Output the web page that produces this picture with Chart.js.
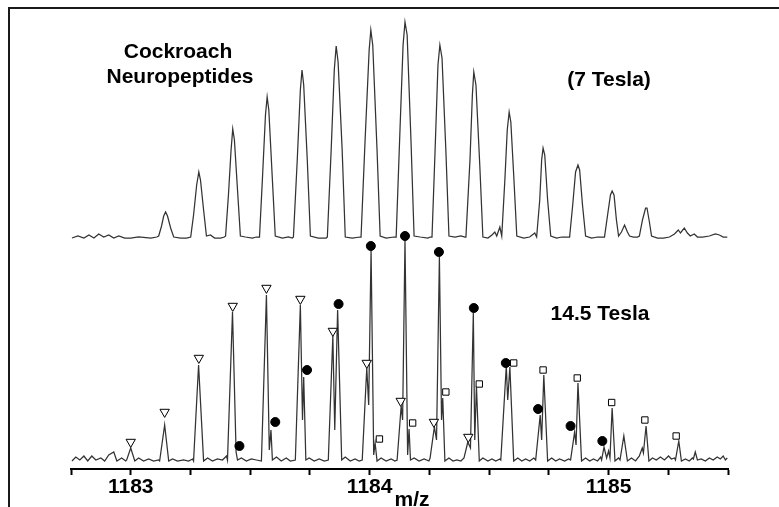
<!DOCTYPE html>
<html>
<head>
<meta charset="utf-8">
<script src="https://cdn.jsdelivr.net/npm/chart.js@4/dist/chart.umd.min.js"></script>
<style>
  html, body { margin: 0; padding: 0; background: #fff; }
  #wrap { width: 779px; height: 507px; }
</style>
</head>
<body>
<div id="wrap"><canvas id="spectrum" width="779" height="507"></canvas></div>
<script>
// Cockroach neuropeptides, 7 T vs 14.5 T (FT-ICR)

const FONT = '"Liberation Sans", Arial, Helvetica, sans-serif';

// 1) 7 Tesla spectrum: [m/z, intensity (a.u.)]
const spec7T = [
  [1182.754, 0], [1182.779, 2], [1182.804, 0], [1182.825, 3], [1182.846, 0], [1182.866, 4], [1182.887, 1],
  [1182.908, 3], [1182.929, 0], [1182.950, 2], [1182.975, 0], [1183.000, 0], [1183.033, 1], [1183.084, 0], [1183.109, 1],
  [1183.117, 2], [1183.129, 12], [1183.138, 22], [1183.146, 26], [1183.154, 22], [1183.167, 10], [1183.180, 1], [1183.209, 0], [1183.234, 0],
  [1183.251, 1], [1183.263, 23], [1183.276, 53], [1183.285, 66], [1183.292, 58], [1183.305, 28], [1183.317, 2], [1183.334, 3], [1183.351, 0], [1183.376, 0], [1183.392, 1],
  [1183.397, 2], [1183.409, 43], [1183.420, 88], [1183.427, 109], [1183.434, 98], [1183.447, 48], [1183.459, 2], [1183.480, 1], [1183.509, 0], [1183.526, 1],
  [1183.539, 1], [1183.551, 58], [1183.564, 123], [1183.571, 141], [1183.578, 128], [1183.593, 58], [1183.605, 2], [1183.635, 0], [1183.660, 1], [1183.676, 0],
  [1183.681, 1], [1183.697, 78], [1183.710, 148], [1183.717, 168], [1183.724, 153], [1183.739, 78], [1183.752, 2], [1183.785, 0], [1183.818, 0],
  [1183.823, 1], [1183.839, 88], [1183.852, 168], [1183.860, 192], [1183.868, 176], [1183.885, 88], [1183.898, 1], [1183.927, 0], [1183.960, 1],
  [1183.964, 1], [1183.981, 98], [1183.998, 188], [1184.005, 208], [1184.013, 193], [1184.031, 88], [1184.044, 2], [1184.069, 0], [1184.102, 1],
  [1184.111, 1], [1184.127, 108], [1184.140, 193], [1184.148, 216], [1184.157, 203], [1184.173, 98], [1184.186, 2], [1184.211, 1], [1184.244, 0], [1184.253, 1],
  [1184.261, 1], [1184.274, 88], [1184.286, 173], [1184.294, 193], [1184.303, 180], [1184.319, 88], [1184.332, 2], [1184.357, 1], [1184.382, 2], [1184.399, 1],
  [1184.403, 1], [1184.420, 78], [1184.430, 143], [1184.436, 166], [1184.445, 153], [1184.461, 73], [1184.474, 1], [1184.495, 0], [1184.512, 3], [1184.524, 6], [1184.532, 2], [1184.545, 11], [1184.553, 2],
  [1184.566, 58], [1184.576, 108], [1184.584, 126], [1184.591, 116], [1184.603, 63], [1184.616, 2], [1184.645, 0], [1184.670, 1], [1184.691, 5], [1184.699, 1],
  [1184.712, 38], [1184.720, 78], [1184.726, 90], [1184.733, 83], [1184.745, 38], [1184.758, 2], [1184.783, 0], [1184.804, 1], [1184.820, 1],
  [1184.837, 1], [1184.850, 33], [1184.862, 66], [1184.872, 73], [1184.879, 68], [1184.891, 33], [1184.904, 2], [1184.929, 0], [1184.954, 1], [1184.971, 1],
  [1184.983, 1], [1184.996, 23], [1185.008, 43], [1185.015, 47], [1185.023, 43], [1185.033, 18], [1185.042, 2], [1185.054, 6], [1185.067, 13], [1185.079, 6], [1185.088, 2], [1185.104, 1], [1185.121, 1],
  [1185.129, 2], [1185.142, 18], [1185.155, 30], [1185.161, 30], [1185.171, 16], [1185.180, 2], [1185.205, 0], [1185.230, 0], [1185.255, 1], [1185.276, 4],
  [1185.292, 8], [1185.301, 5], [1185.317, 10], [1185.330, 5], [1185.342, 2], [1185.359, 4], [1185.372, 1], [1185.393, 1], [1185.422, 2], [1185.447, 4],
  [1185.464, 3], [1185.480, 1], [1185.497, 1]
];

// 2) 14.5 Tesla spectrum: [m/z, intensity (a.u.)]
const spec14T = [
  [1182.754, 0], [1182.770, 4], [1182.787, 1], [1182.804, 5], [1182.820, 0], [1182.837, 5], [1182.854, 1], [1182.875, 3],
  [1182.891, 0], [1182.908, 6], [1182.929, 9], [1182.942, 0], [1182.962, 3], [1182.979, 0],
  [1182.983, 1], [1183.000, 13], [1183.017, 0], [1183.033, 3], [1183.054, 0], [1183.075, 2], [1183.096, 0], [1183.117, 1],
  [1183.121, 0], [1183.142, 36], [1183.159, 0], [1183.175, 2], [1183.196, 0], [1183.221, 1], [1183.242, 0], [1183.259, 2],
  [1183.263, 0], [1183.284, 96], [1183.305, 0], [1183.322, 3], [1183.342, 0], [1183.363, 2], [1183.384, 1], [1183.401, 5],
  [1183.405, 1], [1183.426, 149], [1183.441, 9], [1183.447, 1], [1183.463, 3], [1183.484, 0], [1183.505, 2], [1183.526, 1],
  [1183.547, 0], [1183.568, 166], [1183.580, 11], [1183.587, 31], [1183.593, 1], [1183.610, 4], [1183.630, 0], [1183.651, 3], [1183.668, 0],
  [1183.689, 1], [1183.710, 156], [1183.719, 41], [1183.724, 84], [1183.733, 1], [1183.747, 3], [1183.768, 0], [1183.789, 2], [1183.810, 0],
  [1183.827, 1], [1183.846, 125], [1183.854, 31], [1183.866, 151], [1183.883, 1], [1183.898, 4], [1183.919, 0], [1183.939, 2], [1183.956, 0],
  [1183.969, 1], [1183.988, 93], [1183.996, 56], [1184.006, 211], [1184.017, 6], [1184.023, 18], [1184.031, 0], [1184.048, 3], [1184.069, 0], [1184.090, 2], [1184.106, 0],
  [1184.115, 1], [1184.132, 55], [1184.138, 41], [1184.148, 221], [1184.159, 6], [1184.165, 32], [1184.171, 1], [1184.186, 3], [1184.207, 0], [1184.228, 2], [1184.248, 0],
  [1184.253, 3], [1184.271, 34], [1184.280, 21], [1184.292, 204], [1184.301, 41], [1184.306, 63], [1184.315, 0], [1184.332, 3], [1184.349, 0], [1184.365, 1], [1184.382, 0],
  [1184.395, 3], [1184.411, 19], [1184.422, 13], [1184.434, 148], [1184.440, 21], [1184.447, 75], [1184.459, 0], [1184.474, 3], [1184.495, 0], [1184.512, 2], [1184.528, 0], [1184.545, 2],
  [1184.549, 1], [1184.572, 95], [1184.578, 61], [1184.587, 94], [1184.603, 0], [1184.620, 3], [1184.637, 0], [1184.653, 2], [1184.670, 0], [1184.687, 3],
  [1184.695, 1], [1184.714, 46], [1184.720, 21], [1184.729, 86], [1184.745, 0], [1184.762, 3], [1184.779, 0], [1184.795, 2], [1184.816, 0], [1184.833, 2],
  [1184.841, 1], [1184.858, 29], [1184.864, 16], [1184.872, 78], [1184.887, 0], [1184.904, 3], [1184.921, 0], [1184.937, 2], [1184.954, 0], [1184.967, 4],
  [1184.971, 1], [1184.981, 14], [1184.992, 3], [1185.000, 10], [1185.006, 3], [1185.015, 53], [1185.027, 0], [1185.042, 3],
  [1185.048, 1], [1185.064, 25], [1185.079, 0], [1185.096, 3], [1185.113, 0], [1185.129, 5],
  [1185.141, 13], [1185.146, 8], [1185.157, 35], [1185.169, 0], [1185.184, 3], [1185.200, 1], [1185.217, 4], [1185.234, 1], [1185.251, 5], [1185.263, 2], [1185.276, 3],
  [1185.280, 1], [1185.294, 20], [1185.305, 0], [1185.322, 2], [1185.338, 0], [1185.351, 3],
  [1185.355, 2], [1185.363, 9], [1185.372, 1], [1185.388, 2], [1185.405, 0], [1185.422, 3], [1185.438, 1], [1185.455, 4], [1185.468, 2], [1185.480, 5], [1185.489, 1], [1185.497, 3]
];

// 3) Marcadores de las tres distribuciones isotópicas (14.5 T)
const triMz  = [1183.000, 1183.142, 1183.285, 1183.427, 1183.568, 1183.710, 1183.846, 1183.988, 1184.130, 1184.269, 1184.413];
const triInt = [19, 49, 103, 155, 173, 162, 130, 98, 60, 39, 24];

const dotMz  = [1183.455, 1183.605, 1183.738, 1183.870, 1184.005, 1184.148, 1184.290, 1184.436, 1184.570, 1184.705, 1184.841, 1184.974];
const dotInt = [15, 39, 91, 157, 215, 225, 209, 153, 98, 52, 35, 20];

const sqMz  = [1184.041, 1184.180, 1184.319, 1184.459, 1184.603, 1184.726, 1184.869, 1185.013, 1185.152, 1185.283];
const sqInt = [22, 38, 69, 77, 98, 91, 83, 58.5, 41, 25];

// baselines used to stack both spectra in one panel
const base7T = 231;
const base14T = 8;

const toPoints = (pairs, base) => pairs.map(p => ({ x: p[0], y: base + p[1] }));
const toMarkers = (mz, val, base) => mz.map((m, i) => ({ x: m, y: base + val[i] }));

// labels drawn on the canvas
const notes = [
  { text: 'Cockroach', x: 178, y: 58 },
  { text: 'Neuropeptides', x: 180, y: 83 },
  { text: '(7 Tesla)', x: 609, y: 86 },
  { text: '14.5 Tesla', x: 600, y: 320 },
  { text: 'm/z', x: 412, y: 506 }
];

const framePlugin = {
  id: 'framePlugin',
  beforeDraw(chart) {
    const ctx = chart.ctx;
    ctx.save();
    ctx.fillStyle = '#fff';
    ctx.fillRect(0, 0, chart.width, chart.height);
    ctx.fillStyle = '#1a1a1a';
    ctx.fillRect(8, 7, 2, chart.height - 7);
    ctx.fillRect(8, 7, chart.width - 8, 2);
    ctx.restore();
  },
  afterDraw(chart) {
    const ctx = chart.ctx;
    ctx.save();
    ctx.font = 'bold 21px ' + FONT;
    ctx.fillStyle = '#000';
    ctx.textAlign = 'center';
    ctx.textBaseline = 'alphabetic';
    notes.forEach(n => ctx.fillText(n.text, n.x, n.y));
    ctx.restore();
  }
};

const lineStyle = {
  borderColor: '#333',
  borderWidth: 1.25,
  pointRadius: 0,
  tension: 0,
  fill: false
};

new Chart(document.getElementById('spectrum'), {
  type: 'line',
  data: {
    datasets: [
      {
        label: 'tri', data: toMarkers(triMz, triInt, base14T), showLine: false,
        pointStyle: 'triangle', rotation: 180, pointRadius: 5.4,
        pointBackgroundColor: '#fff', pointBorderColor: '#000', pointBorderWidth: 1
      },
      {
        label: 'dot', data: toMarkers(dotMz, dotInt, base14T), showLine: false,
        pointStyle: 'circle', pointRadius: 4.5,
        pointBackgroundColor: '#000', pointBorderColor: '#000', pointBorderWidth: 1
      },
      {
        label: 'sq', data: toMarkers(sqMz, sqInt, base14T), showLine: false,
        pointStyle: 'rect', pointRadius: 4.5,
        pointBackgroundColor: '#fff', pointBorderColor: '#000', pointBorderWidth: 1
      },
      Object.assign({ label: '14.5 Tesla', data: toPoints(spec14T, base14T) }, lineStyle),
      Object.assign({ label: '7 Tesla', data: toPoints(spec7T, base7T) }, lineStyle)
    ]
  },
  options: {
    responsive: false,
    animation: false,
    devicePixelRatio: 1,
    layout: { padding: { left: 71, right: 51, top: 9, bottom: 0 } },
    plugins: {
      legend: { display: false },
      tooltip: { enabled: false }
    },
    scales: {
      x: {
        type: 'linear',
        min: 1182.75,
        max: 1185.5,
        border: { display: true, color: '#000', width: 2 },
        grid: {
          display: true, drawOnChartArea: false, drawTicks: true,
          tickLength: 6, tickWidth: 2, color: '#000', tickColor: '#000'
        },
        ticks: {
          stepSize: 0.25,
          autoSkip: false,
          maxRotation: 0,
          padding: 0,
          color: '#000',
          font: { family: FONT, size: 21, weight: 'bold' },
          callback: v => Math.abs(v - Math.round(v)) < 1e-6 ? String(Math.round(v)) : ''
        },
        afterFit: s => { s.height = 38; }
      },
      y: {
        display: false,
        min: 0,
        max: 460
      }
    }
  },
  plugins: [framePlugin]
});
</script>
</body>
</html>
